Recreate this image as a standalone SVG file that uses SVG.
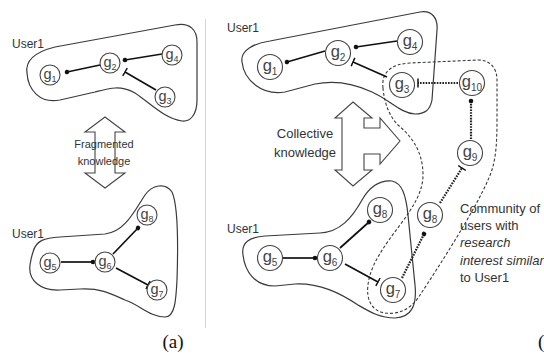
<svg xmlns="http://www.w3.org/2000/svg" width="544" height="359" viewBox="0 0 544 359">
  <style>
    .blob { fill: none; stroke: #3a3a3a; stroke-width: 1.2; }
    .community { fill: none; stroke: #3a3a3a; stroke-width: 1.1; stroke-dasharray: 3 2; }
    .node circle { fill: #fff; stroke: #444; stroke-width: 1.1; }
    .node text { font-family: "Liberation Sans", Arial, sans-serif; fill: #444; text-anchor: middle; }
    .a text { font-size: 14.5px; }
    .a .sub { font-size: 9px; }
    .b text { font-size: 16.5px; }
    .b .sub { font-size: 10px; }
    .edge { fill: none; stroke: #111; stroke-width: 1.7; }
    .dotted { fill: none; stroke: #222; stroke-width: 2.2; stroke-dasharray: 1.6 1.2; }
    .label { font-family: "Liberation Sans", Arial, sans-serif; fill: #333; }
    .bigarrow { fill: #fff; stroke: #444; stroke-width: 1.1; stroke-linejoin: miter; }
  </style>
  <defs>
    <marker id="dot" viewBox="-3 -3 6 6" markerWidth="6" markerHeight="6" markerUnits="userSpaceOnUse" orient="auto">
      <circle r="2.3" fill="#111"/>
    </marker>
    <marker id="bar" viewBox="-1 -5 2 10" markerWidth="2" markerHeight="10" markerUnits="userSpaceOnUse" orient="auto">
      <line x1="0" y1="-4.5" x2="0" y2="4.5" stroke="#111" stroke-width="1.5"/>
    </marker>
  </defs>

  <!-- divider between the two panels -->
  <line x1="205.5" y1="19" x2="205.5" y2="328" stroke="#f5c4cc" stroke-width="1"/>

  <!-- panel (a): user groupings -->
  <g id="a-user1-top">
    <path class="blob" d="M 27 73 C 25 60, 35 52, 55 47 L 175 25 C 190 22, 197 30, 197 42 L 197 100 C 197 115, 190 122, 182 121 C 165 119, 150 103, 135 93 C 120 85, 110 88, 95 92 L 60 100 C 40 104, 28 90, 27 73 Z"/>
    <text class="label" x="12" y="48" font-size="12">User1</text>
  </g>
  <g id="a-user1-bottom">
    <path class="blob" d="M 33 252 C 36 240, 45 238, 60 237 L 105 234 C 125 232, 135 210, 145 195 C 152 185, 165 182, 172 192 C 178 205, 178 250, 177 280 C 176 300, 175 317, 165 317 C 150 317, 140 305, 125 300 C 110 293, 100 288, 80 289 L 60 290 C 40 291, 28 280, 30 265 C 31 258, 32 255, 33 252 Z"/>
    <text class="label" x="12" y="238" font-size="12">User1</text>
  </g>
  <g id="a-fragmented">
    <path class="bigarrow" d="M 105 117 L 125 132 L 115 132 L 115 173 L 125 173 L 105 188 L 85 173 L 95 173 L 95 132 L 85 132 Z"/>
    <text class="label" x="104" y="148" font-size="11" text-anchor="middle">Fragmented</text>
    <text class="label" x="104" y="165" font-size="11" text-anchor="middle">knowledge</text>
  </g>

  <!-- panel (b): user groupings and community -->
  <g id="b-user1-top">
    <path class="blob" d="M 242 62 C 240 50, 255 43, 270 41 L 420 12 C 432 10, 438 18, 437 30 L 432 100 C 430 110, 425 114, 415 114 C 400 113, 390 100, 372 92 C 355 84, 335 80, 315 84 L 285 92 C 262 96, 244 80, 242 62 Z"/>
    <text class="label" x="227" y="32" font-size="12">User1</text>
  </g>
  <g id="b-user1-bottom">
    <path class="blob" d="M 243 255 C 241 242, 250 237, 265 236 L 320 233 C 340 232, 352 218, 362 200 C 370 186, 380 180, 392 181 C 402 183, 406 195, 408 215 L 415 285 C 417 305, 412 317, 395 318 C 380 318, 370 312, 358 305 C 340 293, 320 283, 295 284 L 275 286 C 255 286, 245 272, 243 255 Z"/>
    <text class="label" x="227" y="233" font-size="12">User1</text>
  </g>
  <g id="b-community">
    <path class="community" d="M 383 88 C 381 72, 392 64, 410 63 L 478 60 C 490 60, 497 68, 497 80 L 497 120 C 497 150, 495 165, 488 180 C 475 210, 440 265, 420 295 C 412 308, 400 315, 385 313 C 372 311, 366 300, 368 285 C 370 265, 385 245, 400 225 C 415 205, 423 190, 423 175 C 423 150, 410 135, 398 125 C 388 115, 384 100, 383 88 Z"/>
    <text class="label" font-size="13">
      <tspan x="460" y="213">Community of</tspan>
      <tspan x="460" y="230">users with</tspan>
      <tspan x="460" y="247" font-style="italic">research</tspan>
      <tspan x="460" y="265" font-style="italic">interest similar</tspan>
      <tspan x="460" y="282">to User1</tspan>
    </text>
  </g>
  <g id="b-collective">
    <path class="bigarrow" d="M 353 102 L 372 118 L 364 118 L 364 128 L 380 128 L 380 118 L 400 141 L 380 164 L 380 154 L 364 154 L 364 170 L 372 170 L 353 186 L 335 170 L 342 170 L 342 118 L 335 118 Z"/>
    <text class="label" x="305" y="138" font-size="13" text-anchor="middle">Collective</text>
    <text class="label" x="305" y="157" font-size="13" text-anchor="middle">knowledge</text>
  </g>

  <!-- connectors -->
  <g id="connectors">
    <path class="edge" d="M 100 65 L 67 72" marker-end="url(#dot)"/>
    <path class="edge" d="M 162 54 L 125 60" marker-end="url(#dot)"/>
    <path class="edge" d="M 156 90 L 125 72" marker-end="url(#bar)"/>
    <path class="edge" d="M 61 262 L 93 262" marker-end="url(#dot)"/>
    <path class="edge" d="M 113 254 L 138 228" marker-end="url(#dot)"/>
    <path class="edge" d="M 116 268 L 148 285" marker-end="url(#bar)"/>

    <path class="edge" d="M 325 51 L 287 62" marker-end="url(#dot)"/>
    <path class="edge" d="M 397 41 L 356 47" marker-end="url(#dot)"/>
    <path class="edge" d="M 387 77 L 353 62" marker-end="url(#bar)"/>
    <path class="edge" d="M 283 258 L 315 258" marker-end="url(#dot)"/>
    <path class="edge" d="M 340 248 L 369 222" marker-end="url(#dot)"/>
    <path class="edge" d="M 345 264 L 378 282" marker-end="url(#bar)"/>
    <path class="dotted" d="M 458 83 L 418 83" marker-end="url(#bar)"/>
    <path class="dotted" d="M 471 139 L 471 101" marker-end="url(#dot)"/>
    <path class="dotted" d="M 402 278 L 424 234" marker-end="url(#dot)"/>
    <path class="dotted" d="M 440 203 L 462 168" marker-end="url(#bar)"/>
  </g>

  <!-- nodes, panel (a) -->
  <g id="a-g1" class="node a"><circle cx="50" cy="75" r="10"/><text x="50" y="78.5">g<tspan class="sub" dy="3">1</tspan></text></g>
  <g id="a-g2" class="node a"><circle cx="110" cy="63" r="10"/><text x="110" y="66.5">g<tspan class="sub" dy="3">2</tspan></text></g>
  <g id="a-g3" class="node a"><circle cx="165" cy="97" r="10"/><text x="165" y="100.5">g<tspan class="sub" dy="3">3</tspan></text></g>
  <g id="a-g4" class="node a"><circle cx="172" cy="55" r="10"/><text x="172" y="58.5">g<tspan class="sub" dy="3">4</tspan></text></g>
  <g id="a-g5" class="node a"><circle cx="50" cy="263" r="10"/><text x="50" y="266.5">g<tspan class="sub" dy="3">5</tspan></text></g>
  <g id="a-g6" class="node a"><circle cx="105" cy="262" r="10"/><text x="105" y="265.5">g<tspan class="sub" dy="3">6</tspan></text></g>
  <g id="a-g7" class="node a"><circle cx="157" cy="290" r="10"/><text x="157" y="293.5">g<tspan class="sub" dy="3">7</tspan></text></g>
  <g id="a-g8" class="node a"><circle cx="147" cy="215" r="10"/><text x="147" y="218.5">g<tspan class="sub" dy="3">8</tspan></text></g>

  <!-- nodes, panel (b) -->
  <g id="b-g1" class="node b"><circle cx="270" cy="67" r="12.5"/><text x="270" y="71">g<tspan class="sub" dy="3.5">1</tspan></text></g>
  <g id="b-g2" class="node b"><circle cx="338" cy="53" r="12.5"/><text x="338" y="57">g<tspan class="sub" dy="3.5">2</tspan></text></g>
  <g id="b-g3" class="node b"><circle cx="402" cy="85" r="12.5"/><text x="402" y="89">g<tspan class="sub" dy="3.5">3</tspan></text></g>
  <g id="b-g4" class="node b"><circle cx="410" cy="42" r="12.5"/><text x="410" y="46">g<tspan class="sub" dy="3.5">4</tspan></text></g>
  <g id="b-g10" class="node b"><circle cx="472" cy="83" r="12.5"/><text x="472" y="87">g<tspan class="sub" dy="3.5">10</tspan></text></g>
  <g id="b-g9" class="node b"><circle cx="470" cy="153" r="12.5"/><text x="470" y="157">g<tspan class="sub" dy="3.5">9</tspan></text></g>
  <g id="b-g5" class="node b"><circle cx="270" cy="258" r="12.5"/><text x="270" y="262">g<tspan class="sub" dy="3.5">5</tspan></text></g>
  <g id="b-g6" class="node b"><circle cx="330" cy="258" r="12.5"/><text x="330" y="262">g<tspan class="sub" dy="3.5">6</tspan></text></g>
  <g id="b-g7" class="node b"><circle cx="393" cy="290" r="12.5"/><text x="393" y="294">g<tspan class="sub" dy="3.5">7</tspan></text></g>
  <g id="b-g8-own" class="node b"><circle cx="380" cy="210" r="12.5"/><text x="380" y="214">g<tspan class="sub" dy="3.5">8</tspan></text></g>
  <g id="b-g8-community" class="node b"><circle cx="430" cy="215" r="12.5"/><text x="430" y="219">g<tspan class="sub" dy="3.5">8</tspan></text></g>

  <!-- panel captions -->
  <text x="173" y="348" font-family="Liberation Serif, Times New Roman, serif" font-size="19" text-anchor="middle" fill="#111">(a)</text>
  <text x="538" y="348" font-family="Liberation Serif, Times New Roman, serif" font-size="19" fill="#111">(b)</text>
</svg>
